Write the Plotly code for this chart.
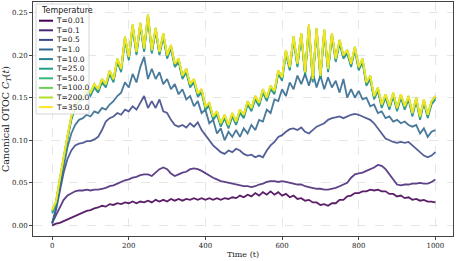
import plotly.graph_objects as go

# time grid
t = list(range(0, 1001, 10))

labels = ["T=0.01", "T=0.1", "T=0.5", "T=1.0", "T=10.0", "T=25.0",
          "T=50.0", "T=100.0", "T=200.0", "T=350.0"]
colors = ["#440154", "#482878", "#3e4989", "#31688e", "#26828e", "#1f9e89",
          "#35b779", "#6ece58", "#b5de2b", "#fde725"]

c_001 = [0.000,0.002,0.003,0.005,0.007,0.009,0.011,0.013,0.015,0.017,
         0.018,0.020,0.021,0.023,0.022,0.025,0.024,0.026,0.025,0.027,
         0.026,0.028,0.026,0.028,0.027,0.029,0.027,0.030,0.028,0.030,
         0.028,0.031,0.029,0.031,0.029,0.031,0.030,0.032,0.030,0.032,
         0.030,0.032,0.030,0.032,0.030,0.032,0.031,0.033,0.032,0.035,
         0.033,0.036,0.034,0.038,0.035,0.039,0.036,0.040,0.036,0.039,
         0.035,0.037,0.033,0.035,0.031,0.032,0.029,0.030,0.027,0.027,
         0.024,0.025,0.023,0.026,0.026,0.030,0.030,0.034,0.035,0.038,
         0.038,0.040,0.040,0.042,0.041,0.042,0.040,0.040,0.037,0.037,
         0.034,0.035,0.032,0.033,0.030,0.031,0.029,0.030,0.028,0.028,
         0.027]
c_01 = [0.003,0.012,0.022,0.030,0.035,0.038,0.040,0.041,0.041,0.042,
        0.041,0.042,0.042,0.043,0.044,0.046,0.047,0.049,0.051,0.053,
        0.054,0.056,0.057,0.059,0.060,0.060,0.058,0.062,0.066,0.068,
        0.066,0.061,0.058,0.060,0.062,0.063,0.066,0.067,0.066,0.064,
        0.061,0.058,0.056,0.054,0.052,0.051,0.050,0.049,0.048,0.047,
        0.046,0.046,0.045,0.046,0.048,0.049,0.051,0.052,0.052,0.051,
        0.052,0.051,0.050,0.049,0.048,0.048,0.046,0.045,0.044,0.043,
        0.043,0.042,0.042,0.043,0.044,0.046,0.048,0.050,0.056,0.060,
        0.061,0.062,0.064,0.066,0.068,0.071,0.070,0.066,0.060,0.053,
        0.048,0.047,0.048,0.048,0.049,0.049,0.050,0.049,0.049,0.051,
        0.054]
c_05 = [0.002,0.018,0.040,0.062,0.078,0.088,0.094,0.096,0.097,0.099,
        0.099,0.101,0.104,0.112,0.122,0.126,0.128,0.132,0.130,0.136,
        0.134,0.140,0.136,0.144,0.152,0.138,0.146,0.138,0.148,0.134,
        0.132,0.124,0.118,0.116,0.118,0.115,0.120,0.116,0.121,0.112,
        0.106,0.100,0.094,0.090,0.086,0.084,0.088,0.086,0.090,0.088,
        0.084,0.082,0.083,0.080,0.082,0.080,0.088,0.094,0.098,0.104,
        0.106,0.110,0.113,0.114,0.112,0.115,0.110,0.108,0.112,0.116,
        0.118,0.120,0.124,0.126,0.127,0.128,0.126,0.128,0.130,0.131,
        0.130,0.128,0.126,0.124,0.120,0.114,0.108,0.102,0.100,0.098,
        0.097,0.098,0.097,0.098,0.094,0.090,0.086,0.082,0.080,0.082,
        0.086]
c_1 = [0.003,0.020,0.045,0.070,0.092,0.108,0.118,0.124,0.126,0.130,
       0.128,0.134,0.132,0.138,0.136,0.142,0.146,0.152,0.156,0.168,
       0.162,0.178,0.168,0.186,0.198,0.172,0.184,0.172,0.180,0.166,
       0.172,0.160,0.166,0.154,0.160,0.148,0.152,0.140,0.146,0.132,
       0.136,0.120,0.124,0.108,0.114,0.100,0.110,0.104,0.112,0.104,
       0.114,0.108,0.118,0.112,0.124,0.122,0.136,0.132,0.148,0.146,
       0.160,0.152,0.168,0.160,0.176,0.166,0.178,0.164,0.180,0.162,
       0.176,0.160,0.174,0.162,0.170,0.156,0.172,0.150,0.160,0.150,
       0.158,0.148,0.150,0.140,0.142,0.132,0.134,0.126,0.128,0.122,
       0.124,0.120,0.122,0.118,0.116,0.118,0.108,0.114,0.104,0.110,
       0.112]
c_10 = [0.014,0.024,0.051,0.078,0.101,0.124,0.138,0.146,0.148,0.156,
        0.152,0.162,0.156,0.168,0.162,0.178,0.168,0.192,0.180,0.218,
        0.194,0.232,0.200,0.234,0.204,0.244,0.202,0.228,0.200,0.222,
        0.196,0.208,0.186,0.192,0.172,0.180,0.162,0.168,0.151,0.156,
        0.136,0.140,0.124,0.130,0.116,0.126,0.114,0.128,0.118,0.132,
        0.126,0.142,0.134,0.148,0.140,0.156,0.146,0.160,0.154,0.178,
        0.170,0.202,0.182,0.218,0.186,0.222,0.176,0.232,0.168,0.228,
        0.172,0.226,0.180,0.222,0.192,0.214,0.196,0.202,0.186,0.206,
        0.182,0.192,0.164,0.172,0.148,0.158,0.138,0.150,0.136,0.152,
        0.134,0.150,0.136,0.148,0.128,0.146,0.124,0.144,0.126,0.142,
        0.148]
c_25 = [0.016,0.026,0.053,0.080,0.103,0.126,0.140,0.148,0.150,0.158,
        0.154,0.164,0.158,0.170,0.164,0.180,0.170,0.194,0.182,0.220,
        0.196,0.234,0.202,0.236,0.206,0.246,0.204,0.230,0.202,0.224,
        0.198,0.210,0.188,0.194,0.174,0.182,0.164,0.170,0.153,0.158,
        0.138,0.142,0.126,0.132,0.118,0.128,0.116,0.130,0.120,0.134,
        0.128,0.144,0.136,0.150,0.142,0.158,0.148,0.162,0.156,0.180,
        0.172,0.204,0.184,0.220,0.188,0.224,0.178,0.234,0.170,0.230,
        0.174,0.228,0.182,0.224,0.194,0.216,0.198,0.204,0.188,0.208,
        0.184,0.194,0.166,0.174,0.150,0.160,0.140,0.152,0.138,0.154,
        0.136,0.152,0.138,0.150,0.130,0.148,0.126,0.146,0.128,0.144,
        0.150]
c_50 = [0.017,0.027,0.054,0.081,0.104,0.127,0.141,0.149,0.151,0.159,
        0.155,0.165,0.159,0.171,0.165,0.181,0.171,0.195,0.183,0.221,
        0.197,0.235,0.203,0.237,0.207,0.247,0.205,0.231,0.203,0.225,
        0.199,0.211,0.189,0.195,0.175,0.183,0.165,0.171,0.154,0.159,
        0.139,0.143,0.127,0.133,0.119,0.129,0.117,0.131,0.121,0.135,
        0.129,0.145,0.137,0.151,0.143,0.159,0.149,0.163,0.157,0.181,
        0.173,0.205,0.185,0.221,0.189,0.225,0.179,0.235,0.171,0.231,
        0.175,0.229,0.183,0.225,0.195,0.217,0.199,0.205,0.189,0.209,
        0.185,0.195,0.167,0.175,0.151,0.161,0.141,0.153,0.139,0.155,
        0.137,0.153,0.139,0.151,0.131,0.149,0.127,0.147,0.129,0.145,
        0.151]
c_100 = [0.018,0.028,0.055,0.082,0.105,0.128,0.142,0.150,0.152,0.160,
         0.156,0.166,0.160,0.172,0.166,0.182,0.172,0.196,0.184,0.222,
         0.198,0.236,0.204,0.238,0.208,0.248,0.206,0.232,0.204,0.226,
         0.200,0.212,0.190,0.196,0.176,0.184,0.166,0.172,0.155,0.160,
         0.140,0.144,0.128,0.134,0.120,0.130,0.118,0.132,0.122,0.136,
         0.130,0.146,0.138,0.152,0.144,0.160,0.150,0.164,0.158,0.182,
         0.174,0.206,0.186,0.222,0.190,0.226,0.180,0.236,0.172,0.232,
         0.176,0.230,0.184,0.226,0.196,0.218,0.200,0.206,0.190,0.210,
         0.186,0.196,0.168,0.176,0.152,0.162,0.142,0.154,0.140,0.156,
         0.138,0.154,0.140,0.152,0.132,0.150,0.128,0.148,0.130,0.146,
         0.152]
c_200 = [0.018,0.028,0.055,0.082,0.105,0.128,0.142,0.150,0.152,0.160,
         0.156,0.166,0.160,0.172,0.166,0.182,0.172,0.196,0.184,0.222,
         0.198,0.236,0.204,0.238,0.208,0.248,0.206,0.232,0.204,0.226,
         0.200,0.212,0.190,0.196,0.176,0.184,0.166,0.172,0.155,0.160,
         0.140,0.144,0.128,0.134,0.120,0.130,0.118,0.132,0.122,0.136,
         0.130,0.146,0.138,0.152,0.144,0.160,0.150,0.164,0.158,0.182,
         0.174,0.206,0.186,0.222,0.190,0.226,0.180,0.236,0.172,0.232,
         0.176,0.230,0.184,0.226,0.196,0.218,0.200,0.206,0.190,0.210,
         0.186,0.196,0.168,0.176,0.152,0.162,0.142,0.154,0.140,0.156,
         0.138,0.154,0.140,0.152,0.132,0.150,0.128,0.148,0.130,0.146,
         0.152]
c_350 = [0.018,0.028,0.055,0.082,0.105,0.128,0.142,0.150,0.152,0.160,
         0.156,0.166,0.160,0.172,0.166,0.182,0.172,0.196,0.184,0.222,
         0.198,0.236,0.204,0.238,0.208,0.248,0.206,0.232,0.204,0.226,
         0.200,0.212,0.190,0.196,0.176,0.184,0.166,0.172,0.155,0.160,
         0.140,0.144,0.128,0.134,0.120,0.130,0.118,0.132,0.122,0.136,
         0.130,0.146,0.138,0.152,0.144,0.160,0.150,0.164,0.158,0.182,
         0.174,0.206,0.186,0.222,0.190,0.226,0.180,0.236,0.172,0.232,
         0.176,0.230,0.184,0.226,0.196,0.218,0.200,0.206,0.190,0.210,
         0.186,0.196,0.168,0.176,0.152,0.162,0.142,0.154,0.140,0.156,
         0.138,0.154,0.140,0.152,0.132,0.150,0.128,0.148,0.130,0.146,
         0.152]

series = [c_001, c_01, c_05, c_1, c_10, c_25, c_50, c_100, c_200, c_350]

x_ticks = [0, 200, 400, 600, 800, 1000]
y_ticks = [0.0, 0.05, 0.10, 0.15, 0.20, 0.25]
y_ticktext = ["0.00", "0.05", "0.10", "0.15", "0.20", "0.25"]

SERIF = "DejaVu Serif"
SANS = "DejaVu Sans"

fig = go.Figure()
for name, col, vals in zip(labels, colors, series):
    fig.add_trace(go.Scatter(x=t, y=vals, mode="lines", name=name,
                             line=dict(color=col, width=1.8), opacity=0.88,
                             showlegend=False, hoverinfo="skip"))

W, H = 458, 261
ML, MR, MT, MB = 33, 5, 2, 25
PW, PH = W - ML - MR, H - MT - MB

def px(xp):
    return (xp - ML) / PW

def py(yp):
    return (H - MB - yp) / PH

shapes = []
annotations = []
# legend frame
shapes.append(dict(type="rect", xref="paper", yref="paper",
                   x0=px(36), x1=px(89), y0=py(114), y1=py(4),
                   line=dict(color="#cccccc", width=0.8),
                   fillcolor="rgba(255,255,255,0.85)", layer="above"))
annotations.append(dict(text="Temperature", xref="paper", yref="paper",
                        x=px(39), y=py(11), xanchor="left", yanchor="middle",
                        showarrow=False, font=dict(family=SANS, size=8, color="#222")))
for i, (name, col) in enumerate(zip(labels, colors)):
    yy = 20.7 + 9.6 * i
    shapes.append(dict(type="line", xref="paper", yref="paper",
                       x0=px(39), x1=px(53), y0=py(yy), y1=py(yy),
                       line=dict(color=col, width=2), layer="above"))
    annotations.append(dict(text=name, xref="paper", yref="paper",
                            x=px(54), y=py(yy), xanchor="left", yanchor="middle",
                            showarrow=False,
                            font=dict(family=SANS, size=7.5, color="#222")))

fig.update_layout(
    width=W, height=H,
    margin=dict(l=ML, r=MR, t=MT, b=MB),
    paper_bgcolor="white", plot_bgcolor="white",
    shapes=shapes, annotations=annotations,
    xaxis=dict(range=[-50, 1046], tickvals=x_ticks, showline=True,
               linecolor="#444", linewidth=1, mirror=True, ticks="outside",
               ticklen=3, tickcolor="#444", gridcolor="#e6e6e6",
               griddash="dash", gridwidth=0.8, zeroline=False,
               tickfont=dict(family=SERIF, size=7, color="#222"),
               title=dict(text="Time (t)", standoff=1,
                          font=dict(family=SERIF, size=8, color="#222"))),
    yaxis=dict(range=[-0.0125, 0.2625], tickvals=y_ticks, ticktext=y_ticktext,
               showline=True, linecolor="#444", linewidth=1, mirror=True,
               ticks="outside", ticklen=3, tickcolor="#444",
               gridcolor="#e6e6e6", griddash="dash", gridwidth=0.8,
               zeroline=False,
               tickfont=dict(family=SERIF, size=7, color="#222"),
               title=dict(text="Canonical OTOC <i>C</i><sub><i>T</i></sub>(<i>t</i>)",
                          standoff=3,
                          font=dict(family=SERIF, size=9.5, color="#222"))),
)

fig.write_html("out.html", config={"displayModeBar": False},
               post_script="document.body.style.margin='0px';")
